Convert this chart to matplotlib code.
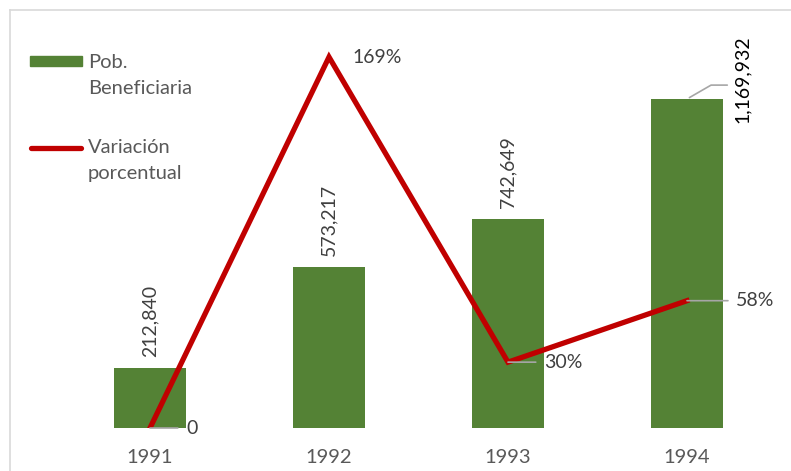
import matplotlib.pyplot as plt
from matplotlib.lines import Line2D
from matplotlib.patches import Rectangle

plt.rcParams['font.family'] = ['Lato', 'DejaVu Sans']

years = ['1991', '1992', '1993', '1994']
beneficiaria = [212840, 573217, 742649, 1169932]
variacion = [0, 169, 30, 58]
var_labels = ['0', '169%', '30%', '58%']

green = '#548235'
red = '#C00000'
grey_txt = '#404040'

W, H = 791, 471
fig = plt.figure(figsize=(W / 100, H / 100), dpi=100)

def fx(px):
    return px / W

def fy(py):
    return 1 - py / H

# chart border (only top and left visible)
fig.add_artist(Line2D([fx(10), fx(10)], [0, fy(10)], color='#d9d9d9', lw=1.2))
fig.add_artist(Line2D([fx(10), 1], [fy(10), fy(10)], color='#d9d9d9', lw=1.2))

ax = fig.add_axes([fx(60.5), fy(428), 716 / W, 408 / H])
x = range(len(years))
ax.bar(x, beneficiaria, width=0.4, color=green, zorder=2)
ax.set_xlim(-0.5, 3.5)
ax.set_ylim(0, 408 * 3556)
ax.set_xticks(list(x))
ax.set_xticklabels(years, fontsize=14.5, color='#595959')
ax.tick_params(axis='x', length=0, pad=15)
ax.set_yticks([])
for s in ax.spines.values():
    s.set_visible(False)

# bar value labels
for i, v in enumerate(beneficiaria[:3]):
    ax.annotate(f'{v:,}', (i, v), xytext=(0, 8), textcoords='offset points',
                rotation=90, ha='center', va='bottom', fontsize=14, color=grey_txt)
ax.annotate(f'{beneficiaria[3]:,}', (3, beneficiaria[3]), xytext=(40, 14),
            textcoords='offset points', rotation=90, ha='center', va='center',
            fontsize=14, color='black')
ax.annotate('', (3, beneficiaria[3]), xytext=(31, 10), textcoords='offset points',
            arrowprops=dict(arrowstyle='-', color='#a6a6a6', lw=1.2,
                            connectionstyle='angle,angleA=0,angleB=30,rad=0'))

ax2 = ax.twinx()
ax2.plot(list(x), variacion, color=red, lw=3.8, zorder=3, solid_joinstyle='miter')
ax2.set_ylim(0, 408 / 2.195)
ax2.set_yticks([])
for s in ax2.spines.values():
    s.set_visible(False)

# line value labels with leader lines
lead = [20, 0, 20, 29.5]
for i, (v, lab) in enumerate(zip(variacion, var_labels)):
    if lead[i] == 0:
        ax2.annotate(lab, (i, v), xytext=(17, 0), textcoords='offset points',
                     ha='left', va='center', fontsize=14, color=grey_txt)
        continue
    ax2.annotate(lab, (i, v), xytext=(lead[i] + 6, 0), textcoords='offset points',
                 ha='left', va='center', fontsize=14, color=grey_txt)
    ax2.annotate('', (i, v), xytext=(lead[i], 0), textcoords='offset points',
                 arrowprops=dict(arrowstyle='-', color='#a6a6a6', lw=1.2,
                                 shrinkA=0, shrinkB=0))

# legend
fig.add_artist(Rectangle((fx(30), fy(66)), 52 / W, 10 / H, color=green))
fig.add_artist(Line2D([fx(31), fx(81)], [fy(148), fy(148)], color=red, lw=3.8,
                      solid_capstyle='round'))
for txt, py in [('Pob.', 62), ('Beneficiaria', 88), ('Variación', 148), ('porcentual', 174)]:
    fig.text(fx(88), fy(py), txt, fontsize=14.5, color='#595959', ha='left', va='center')

fig.savefig('out.png', dpi=100)
